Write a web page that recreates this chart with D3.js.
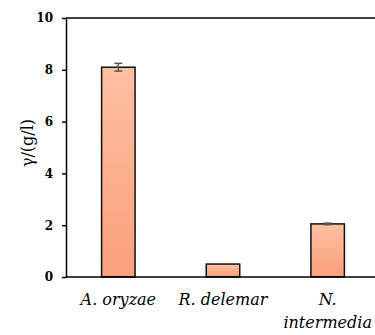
<!DOCTYPE html>
<html>
<head>
<meta charset="utf-8">
<script src="https://cdn.jsdelivr.net/npm/d3@7"></script>
<style>
  body { margin: 0; background: #fff; }
  text { font-family: "DejaVu Serif", "Liberation Serif", serif; }
</style>
</head>
<body>
<script>
// data
var species = ['A. oryzae', 'R. delemar', 'N. intermedia'];
var titres = [8.1, 0.5, 2.05];
var errs = [0.15, 0, 0.03];
var yTicks = [0, 2, 4, 6, 8, 10];

var W = 375, H = 335;
var margin = { top: 18, left: 66, bottom: 58 };
var plotW = 314, plotH = H - margin.top - margin.bottom;

var svg = d3.select('body').append('svg')
    .attr('width', W)
    .attr('height', H);

var defs = svg.append('defs');
var grad = defs.append('linearGradient')
    .attr('id', 'barFill')
    .attr('x1', 0).attr('y1', 0)
    .attr('x2', 0).attr('y2', 1);
grad.append('stop').attr('offset', '0%').attr('stop-color', '#fdc0a2');
grad.append('stop').attr('offset', '100%').attr('stop-color', '#fb9f7b');

var g = svg.append('g')
    .attr('transform', 'translate(' + margin.left + ',' + margin.top + ')');

var x = d3.scaleBand()
    .domain(species)
    .range([0, plotW])
    .paddingInner(0.68)
    .paddingOuter(0.34);

var y = d3.scaleLinear()
    .domain([0, 10])
    .range([plotH, 0]);

// frame: top line
g.append('line')
    .attr('x1', 0).attr('x2', W)
    .attr('y1', 0).attr('y2', 0)
    .attr('stroke', '#000')
    .attr('stroke-width', 1.5);

// bars
g.selectAll('rect.bar')
    .data(titres)
    .enter()
    .append('rect')
    .attr('class', 'bar')
    .attr('x', function (d, i) { return x(species[i]); })
    .attr('y', function (d) { return y(d); })
    .attr('width', x.bandwidth())
    .attr('height', function (d) { return plotH - y(d); })
    .attr('fill', 'url(#barFill)')
    .attr('stroke', '#111')
    .attr('stroke-width', 1.5);

// error bars
var eb = g.selectAll('g.err')
    .data(titres)
    .enter()
    .append('g')
    .attr('class', 'err')
    .attr('transform', function (d, i) {
        return 'translate(' + (x(species[i]) + x.bandwidth() / 2) + ',0)';
    })
    .attr('stroke', '#555')
    .attr('stroke-width', 1.5);

eb.filter(function (d, i) { return errs[i] > 0; })
    .each(function (d, i) {
        var e = errs[titres.indexOf(d)];
        var s = d3.select(this);
        s.append('line').attr('x1', 0).attr('x2', 0)
            .attr('y1', y(d + e)).attr('y2', y(d - e));
        s.append('line').attr('x1', -4).attr('x2', 4)
            .attr('y1', y(d + e)).attr('y2', y(d + e));
        s.append('line').attr('x1', -4).attr('x2', 4)
            .attr('y1', y(d - e)).attr('y2', y(d - e));
    });

// y axis
var yAxis = g.append('g')
    .call(d3.axisLeft(y).tickValues(yTicks).tickSize(4).tickSizeOuter(0));
yAxis.select('.domain').attr('stroke', '#000').attr('stroke-width', 1.5);
yAxis.selectAll('.tick line').attr('stroke', '#000').attr('stroke-width', 1.5);
yAxis.selectAll('.tick text')
    .attr('x', -13)
    .style('font-family', '"DejaVu Serif", serif')
    .style('font-weight', 'bold')
    .style('font-size', '12px')
    .attr('fill', '#000');

// x baseline
g.append('line')
    .attr('x1', 0).attr('x2', W)
    .attr('y1', plotH).attr('y2', plotH)
    .attr('stroke', '#000')
    .attr('stroke-width', 1.5);

// x labels
var lines = [['A. oryzae'], ['R. delemar'], ['N.', 'intermedia']];
g.selectAll('text.xlab')
    .data(species)
    .enter()
    .append('text')
    .attr('class', 'xlab')
    .attr('text-anchor', 'middle')
    .style('font-style', 'italic')
    .style('font-size', '16px')
    .attr('fill', '#000')
    .each(function (d, i) {
        var t = d3.select(this);
        lines[i].forEach(function (l, k) {
            t.append('tspan')
                .attr('x', x(d) + x.bandwidth() / 2)
                .attr('y', plotH + 28 + k * 23)
                .text(l);
        });
    });

// y title
svg.append('text')
    .attr('transform', 'translate(33,143) rotate(-90)')
    .attr('text-anchor', 'middle')
    .style('font-size', '16px')
    .attr('fill', '#000')
    .text('γ/(g/l)');
</script>
</body>
</html>
